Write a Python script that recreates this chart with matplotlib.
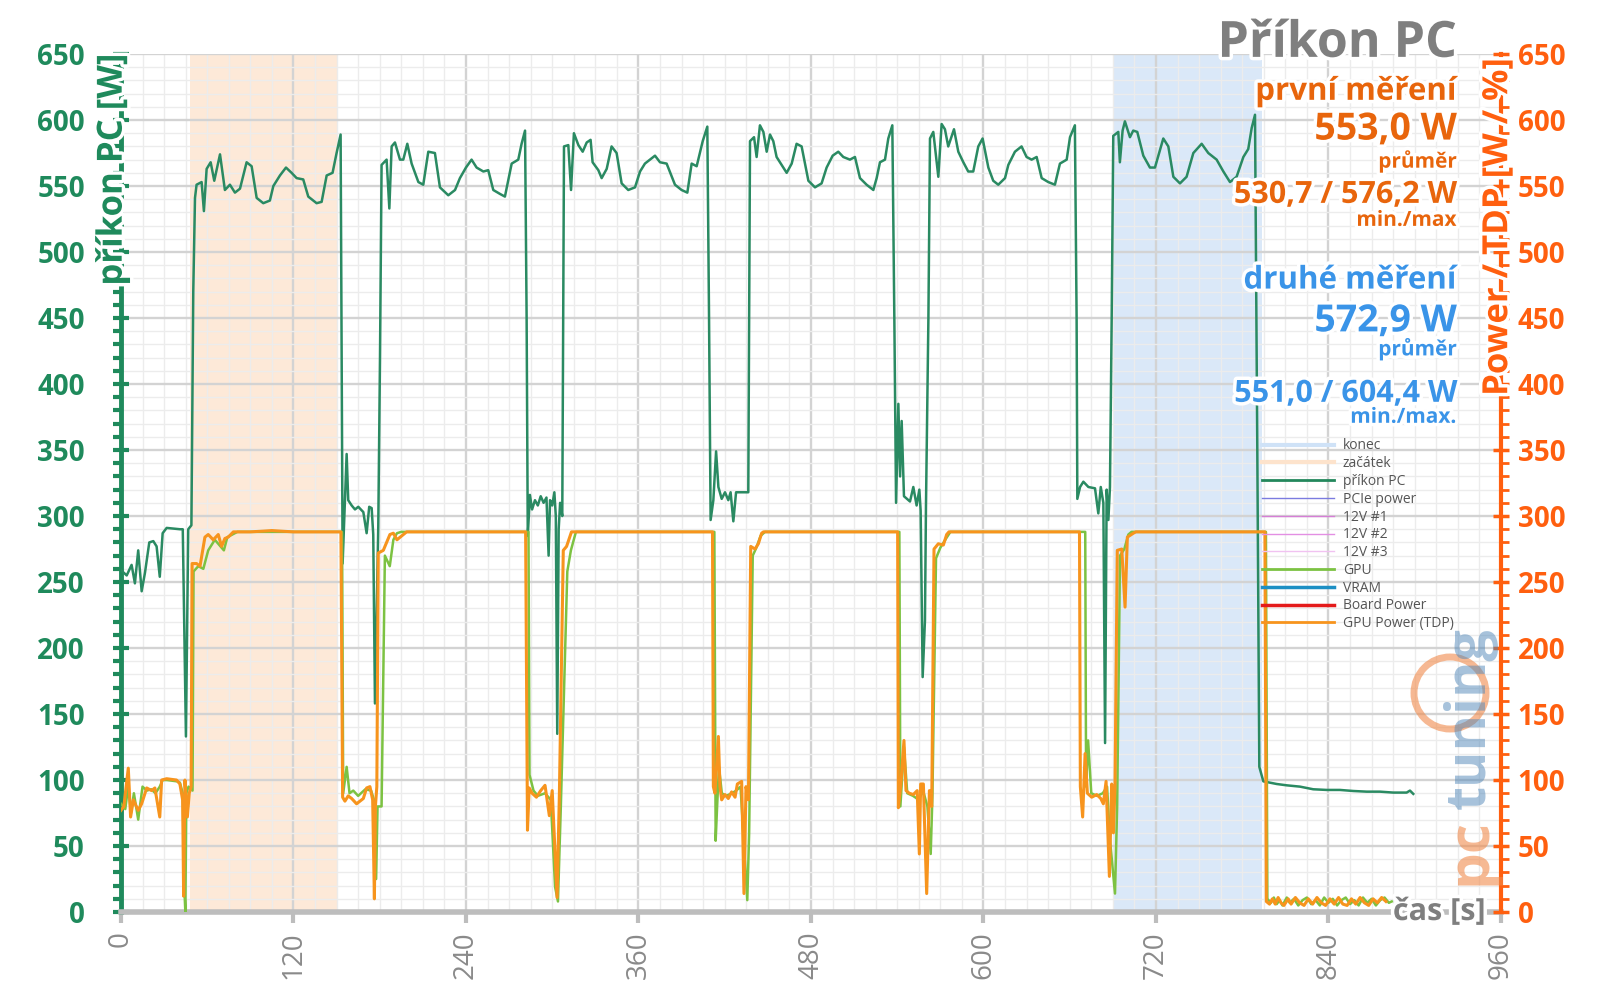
import matplotlib
matplotlib.use('Agg')
from matplotlib import pyplot as plt
from matplotlib.lines import Line2D
from matplotlib.patches import Ellipse
import matplotlib.patheffects as pe

plt.rcParams['font.family'] = ['Open Sans', 'DejaVu Sans']

# --- data --------------------------------------------------------------
# příkon PC (celá sestava) [W]
pc_t = [0, 4, 7.4, 9.7, 12, 14.4, 16.7, 19.7, 22.5, 24.8, 27, 29, 31.8, 41, 43, 45.2, 46.8, 49,
        50.3, 51.5, 52.6, 56.1, 57.7, 59.6, 62.4, 64.9, 68.9, 72.3, 75.8, 79.3, 82.8, 87.4, 90.9,
        94.4, 99, 103.6, 106, 110.6, 114.8, 118.7, 122.2, 126.8, 130.3, 136.1, 139.6, 143.1, 147.2,
        150, 152.8, 153.5,
        154.2, 157, 158.1, 160.5, 162.8, 165.1, 168.6, 170.9, 172.7, 174.4, 175.5, 176.7, 179, 180.2,
        181.3, 184.8, 186.7, 188.3, 190.6, 194.1, 196.4, 199.2, 202.2, 206.9, 210.3, 213.8, 218.4,
        221.9, 227.7, 232.4, 235.8, 240, 243.9, 247.4, 252.1, 255.5, 259, 263.7, 267.1, 271.8, 276.4,
        278.7, 281.1, 282.2,
        283, 284.5, 286, 288, 290, 292, 294, 296, 297.5, 298.5, 300, 301.5, 302.5, 303.5, 304.5,
        305.5, 307,
        308.2, 311.2, 313.1, 315.1, 318.2, 321.2, 324, 326.7, 328.1, 332.1, 334.4, 337.9, 341.3,
        344.8, 348.3, 352.9, 357.6, 361.1, 364.5, 368, 371.5, 375, 379.6, 385.4, 390, 394, 397,
        400.5, 404.7, 407.9, 409.1,
        410.2, 412.1, 414, 415.6, 417.9, 420.2, 422.5, 424.1, 426, 427.9, 436.4,
        437.6, 440.4, 442.2, 444.5, 446.9, 449.2, 451.5, 453.8, 456.1, 459.6, 463.1, 466.6, 470,
        473.5, 478.2, 482.8, 487.4, 490.9, 495.1, 499, 502.5, 507.1, 510.6, 514.1, 518.7, 523.4,
        525.7, 528, 531.5, 533.8, 536.6, 538,
        539.2, 540.8, 542, 543.1, 544.7, 548.9, 551.2, 553.5, 555.4, 556.3, 557.7, 559.3, 560, 561.7,
        562.8, 565.1, 568.6, 570.9, 573.2, 575.5, 579.5, 582.5, 586, 589.4, 592.9, 596.4, 599.4,
        603.4, 606.8, 610.3, 615, 617.3, 621.9, 626.5, 630, 633.5, 637, 640.5, 645.1, 649.7, 653.2,
        657.9, 660.2, 663.6, 664.8,
        665.3, 667.2, 669.5, 673, 677.6, 679.9, 681.6, 683.4, 684.6, 685.7, 686.9, 688, 689.2,
        690.3, 693.8, 694.9, 696.8, 698.4, 701.9, 704.2, 707, 711.2, 715.8, 719.3, 725.1, 728.6,
        732.1, 736.7, 741.3, 746, 751.8, 756.4, 762.2, 766.9, 771.5, 776.1, 780.8, 784.2, 786.6,
        788.9, 790.5,
        791.9, 794.7, 804, 810.9, 820.2, 829.4, 838.7, 848, 857.3, 866.6, 875.8, 885.1, 894.4,
        896.7, 899]
pc_w = [259, 255, 263, 249, 274, 243, 257, 280, 281, 277, 254, 287, 291, 290, 290, 133, 290, 293,
        470, 541, 551, 553, 531, 563, 568, 554, 574, 547, 551, 545, 548, 568, 565, 541, 537, 539,
        550, 558, 564, 560, 556, 555, 542, 537, 538, 558, 560, 575, 589, 420,
        264, 347, 312, 308, 305, 307, 303, 287, 307, 306, 286, 158, 292, 420,
        566, 570, 533, 580, 583, 570, 570, 582, 567, 553, 551, 576, 575, 549, 543, 547, 556, 564,
        570, 564, 561, 562, 547, 544, 542, 567, 570, 582, 592, 450,
        285, 316, 305, 312, 308, 315, 310, 314, 270, 312, 308, 318, 300, 135, 290, 310, 300,
        580, 581, 547, 590, 581, 576, 583, 585, 568, 562, 556, 563, 580, 575, 552, 547, 549, 561,
        567, 570, 573, 568, 567, 551, 547, 545, 567, 565, 584, 595, 450,
        297, 312, 349, 322, 313, 318, 312, 318, 296, 318, 318,
        584, 587, 572, 596, 591, 576, 589, 584, 572, 566, 560, 567, 582, 580, 554, 549, 552, 564,
        573, 576, 572, 570, 572, 556, 551, 547, 556, 568, 570, 586, 596, 450,
        310, 385, 330, 372, 315, 311, 322, 308, 320, 304, 178, 221, 307, 450,
        586, 591, 557, 597, 593, 580, 593, 576, 568, 561, 561, 580, 586, 564, 554, 551, 556, 566,
        576, 580, 572, 570, 572, 556, 553, 551, 567, 570, 587, 596, 450,
        313, 322, 326, 322, 321, 302, 322, 310, 128, 320, 297, 322, 450,
        588, 591, 568, 592, 599, 587, 592, 591, 573, 564, 564, 586, 580, 557, 552, 557, 575, 582,
        575, 570, 561, 553, 557, 572, 578, 594, 604, 350,
        110, 99, 97, 96, 95, 93, 92.5, 92.5, 91.7, 91.2, 91.2, 90.5, 90.5, 92, 89.5]

# GPU [W]
gpu_t = [0, 3, 5, 7, 9, 12, 15, 18, 21, 24, 27, 29, 32, 39, 41, 43, 44, 44.8, 45.5, 47, 49.8,
         50.5, 53.8, 57.3, 60.7, 65.3, 71.6, 74, 79.3, 81, 100, 130, 153.8,
         154.6, 157, 159, 161.6, 165, 170, 174, 176, 177.5, 178.5, 181.3, 183.6, 187, 189.5, 192,
         195, 240, 283.5,
         284.2, 287, 290, 295, 299, 302, 304, 306, 310.5, 313, 316.5, 360, 412.8,
         413.7, 414.8, 416, 418, 421, 425, 428, 431, 434, 435.7, 437, 439.5, 442, 445, 448, 500,
         541.5,
         542.2, 544.7, 547, 551, 555, 558, 561, 563.3, 564.5, 567, 570, 574, 577, 620, 670.8,
         671.4, 672.8, 675, 679, 683, 686, 688, 691.5, 693, 695, 698, 700.8, 703, 750, 796.5,
         797.5, 800, 802, 804, 806, 808, 811, 813, 816, 819, 822, 825, 828, 831, 834, 837, 840,
         843, 846, 849, 852, 855, 858, 861, 864, 867, 870, 873, 876, 879, 882, 884]
gpu_w = [82, 78, 95, 75, 90, 70, 95, 92, 93, 90, 95, 100, 100, 99, 98, 90, 20, 0, 90, 95, 92,
         258, 262, 260, 274, 282, 274, 284, 287, 288, 288, 288, 288,
         90, 110, 90, 92, 88, 93, 92, 85, 25, 80, 80, 270, 262, 282, 287, 288, 288, 288,
         104, 92, 88, 90, 85, 19, 8, 80, 258, 274, 288, 288, 288,
         54, 82, 110, 90, 88, 90, 92, 95, 40, 9, 60, 270, 276, 285, 288, 288, 288,
         80, 125, 90, 88, 85, 92, 80, 44, 88, 268, 276, 283, 288, 288, 288,
         95, 130, 90, 88, 90, 95, 55, 14, 80, 270, 275, 286, 288, 288, 288,
         10, 7, 11, 6, 9, 5, 11, 7, 10, 5, 9, 11, 6, 9, 5, 11, 7,
         10, 5, 9, 11, 6, 9, 5, 11, 7, 10, 5, 9, 11, 7, 8]

# GPU Power (TDP) [W]
tdp_t = [0, 2, 5.1, 6.7, 8.6, 12, 14.4, 17.9, 21.3, 23.6, 27, 28.3, 31.8, 38.7, 41, 42.9, 43.6,
         44.5, 46.2, 47.5, 48.8, 49.5, 52.6, 55, 58.4, 60.7, 64.2, 67.7, 70, 72.3, 74.6, 78.2, 90,
         105, 120, 135, 153,
         154.2, 155.8, 158.1, 160.5, 163.9, 168.6, 170.9, 173.2, 175.1, 176.3, 177, 178, 179,
         182.5, 187.1, 189.5, 192, 198.7, 220, 250, 281.5,
         282.8, 284, 286, 289, 292, 295, 298, 300, 303.4, 305, 307.7, 310, 313.4, 340, 380, 411.5,
         412.1, 413.2, 415.6, 416.7, 417.9, 420.2, 422.5, 424.8, 427.2, 428.8, 431.8, 433.4, 434.8,
         436.5, 438.1, 441.1, 443.4, 445.7, 447, 470, 500, 540.3,
         540.8, 542.4, 544.7, 546.1, 548.4, 551.2, 553.9, 555.4, 556.3, 558.2, 560.5, 562.4, 564,
         565.6, 568.6, 572.1, 574.4, 576, 620, 666.8,
         667.4, 669, 670.7, 672.3, 675.3, 678.8, 681.6, 683.4, 685.3, 687.6, 689.2, 690.4, 691.5,
         693.1, 696.2, 698.5, 700.1, 704.3, 706, 750, 795.8,
         796.8, 799, 801, 803, 805, 807, 809, 812, 814, 817, 820, 823, 826, 829, 832, 835, 838, 841,
         844, 847, 850, 853, 856, 859, 862, 865, 868, 871, 874, 877, 880]
tdp_w = [77, 80, 109, 72, 85, 77, 82, 94, 92, 94, 72, 100, 101, 100, 97, 85, 12, 100, 72, 90, 95,
         264, 264, 262, 284, 286, 282, 286, 277, 283, 284, 288, 288, 289, 288, 288, 288,
         87, 84, 88, 86, 82, 86, 94, 95, 85, 10, 80, 95, 272, 274, 286, 287, 282, 288, 288, 288,
         288,
         62, 94, 90, 87, 92, 96, 73, 92, 11, 90, 274, 277, 288, 288, 288, 288,
         95, 90, 133, 95, 85, 89, 86, 91, 87, 97, 99, 14, 95, 85, 277, 275, 279, 287, 288, 288,
         288, 288,
         79, 95, 130, 92, 90, 89, 92, 44, 97, 97, 14, 92, 80, 275, 279, 278, 286, 288, 288, 288,
         95, 72, 120, 90, 87, 89, 86, 82, 99, 27, 97, 60, 95, 274, 275, 231, 284, 287, 288, 288,
         288,
         8, 6, 10, 6, 11, 7, 5, 10, 6, 11, 7, 5, 10, 6, 11, 7, 5, 10, 6, 11, 6, 5, 10, 6, 11, 7, 5,
         10, 7, 11, 8]

zacatek = (48, 151)
konec = (690, 794)

legend_labels = ['konec', 'začátek', 'příkon PC', 'PCIe power', '12V #1', '12V #2', '12V #3',
                 'GPU', 'VRAM', 'Board Power', 'GPU Power (TDP)']
legend_colors = ['#cfe2f7', '#fde3cc', '#23875c', '#7b7be0', '#d67ed6', '#e38fe3', '#f1c2f1',
                 '#7cc242', '#1c8fc4', '#e41a1a', '#f7941d']
legend_widths = [3, 3, 2, 1, 1, 1, 1, 2, 2.5, 2.5, 2]

green = '#1f8a5c'
orange = '#ff5f0f'
grey = '#8a8a8a'

fig = plt.figure(figsize=(16, 10.08), dpi=100)
ax = fig.add_axes([0.0756, 0.0952, 0.8625, 0.8512])
ax2 = ax.twinx()

ax.axvspan(*zacatek, color='#fde6d2', alpha=0.85, lw=0, zorder=0.5)
ax.axvspan(*konec, color='#d6e6f8', alpha=0.9, lw=0, zorder=0.5)

ax.plot(pc_t, pc_w, color='#2a8a62', lw=1.8, zorder=3)
ax2.plot(gpu_t, gpu_w, color='#7cc242', lw=1.8, zorder=3)
ax2.plot(tdp_t, tdp_w, color='#f7941d', lw=2.2, zorder=4)

ax.set_xlim(0, 960)
ax.set_ylim(0, 650)
ax2.set_ylim(0, 650)

ax.set_xticks(range(0, 961, 120))
ax.set_xticks(range(0, 961, 15), minor=True)
ax.set_yticks(range(0, 651, 50))
ax.set_yticks(range(0, 651, 10), minor=True)
ax2.set_yticks(range(0, 651, 50))
ax2.set_yticks(range(0, 651, 10), minor=True)

ax.grid(which='major', color='#d3d3d3', lw=1.7, zorder=0)
ax.grid(which='minor', color='#ececec', lw=1.0, zorder=0)
ax.set_axisbelow(True)

for s in ['top']:
    ax.spines[s].set_visible(False)
    ax2.spines[s].set_visible(False)
ax.spines['left'].set_color(green)
ax.spines['left'].set_linewidth(3.5)
ax.spines['bottom'].set_color('#bdbdbd')
ax.spines['bottom'].set_linewidth(4)
ax.spines['right'].set_visible(False)
ax2.spines['left'].set_visible(False)
ax2.spines['bottom'].set_visible(False)
ax2.spines['right'].set_color(orange)
ax2.spines['right'].set_linewidth(3)

ax.tick_params(axis='y', which='major', colors=green, direction='inout', length=12, width=3,
               labelsize=20, pad=20)
ax.tick_params(axis='y', which='minor', colors=green, direction='out', length=6, width=3)
for lab in ax.get_yticklabels():
    lab.set_fontweight('bold')
ax2.tick_params(axis='y', which='major', colors=orange, direction='inout', length=12, width=2.5,
                labelsize=20, pad=6)
ax2.tick_params(axis='y', which='minor', colors=orange, direction='out', length=6, width=2)
for lab in ax2.get_yticklabels():
    lab.set_fontweight('bold')
ax.tick_params(axis='x', which='major', colors='#bdbdbd', direction='out', length=8, width=3,
               labelsize=20, labelcolor=grey, labelrotation=90, pad=6)
ax.tick_params(axis='x', which='minor', length=0)

glow = [pe.withStroke(linewidth=5, foreground='white')]

ax.text(-0.006, 1.0, 'příkon PC [W]', transform=ax.transAxes, rotation=90, ha='center',
        va='top', color=green, fontsize=25, fontweight='bold', path_effects=glow, zorder=6)
ax2.text(0.998, 0.995, 'Power / TDP [W / %]', transform=ax2.transAxes, rotation=90, ha='center',
         va='top', color=orange, fontsize=25, fontweight='bold', path_effects=glow, zorder=6)
ax.text(917, 0, 'čas [s]', ha='center', va='center', color='#7f7f7f', fontsize=22,
        fontweight='bold', path_effects=glow, zorder=6, clip_on=False)

handles = [Line2D([0], [0], color=c, lw=w) for c, w in zip(legend_colors, legend_widths)]
leg = ax2.legend(handles, legend_labels, loc='upper left', bbox_to_anchor=(0.822, 0.56),
                 frameon=False, fontsize=10, handlelength=5.2, labelspacing=0.2,
                 borderpad=0, handletextpad=0.6)
for t in leg.get_texts():
    t.set_color('#555555')

# texts top right
xr = 1457 / 1600
def ftxt(y, s, size, color):
    fig.text(xr, 1 - y / 988, s, ha='right', va='center', fontsize=size, fontweight='bold',
             color=color, path_effects=glow, zorder=10)

ftxt(43, 'Příkon PC', 36, '#7f7f7f')
ftxt(90, 'první měření', 22.5, '#e8650c')
ftxt(127, '553,0 W', 27, '#e8650c')
ftxt(158, 'průměr', 15, '#e8650c')
ftxt(191, '530,7 / 576,2 W', 22, '#e8650c')
ftxt(216, 'min./max', 15, '#e8650c')
ftxt(275, 'druhé měření', 22.5, '#3a94e8')
ftxt(315, '572,9 W', 27, '#3a94e8')
ftxt(342, 'průměr', 15, '#3a94e8')
ftxt(386, '551,0 / 604,4 W', 22, '#3a94e8')
ftxt(409, 'min./max.', 15, '#3a94e8')

# watermark
fig.text(1470 / 1600, 1 - 852 / 1008, 'pc', rotation=90, ha='center', va='center',
         fontsize=42, fontweight='bold', color='#f08a4b', alpha=0.6, zorder=9)
fig.text(1470 / 1600, 1 - 718 / 1008, 'tuning', rotation=90, ha='center', va='center',
         fontsize=40, fontweight='bold', color='#4f86b8', alpha=0.5, zorder=9)
fig.add_artist(Ellipse((1450 / 1600, 1 - 693 / 1008), 72 / 1600, 72 / 1008,
                       transform=fig.transFigure, fill=False, ec='#f08a4b', lw=5, alpha=0.6))

fig.savefig('out.png', dpi=100)
